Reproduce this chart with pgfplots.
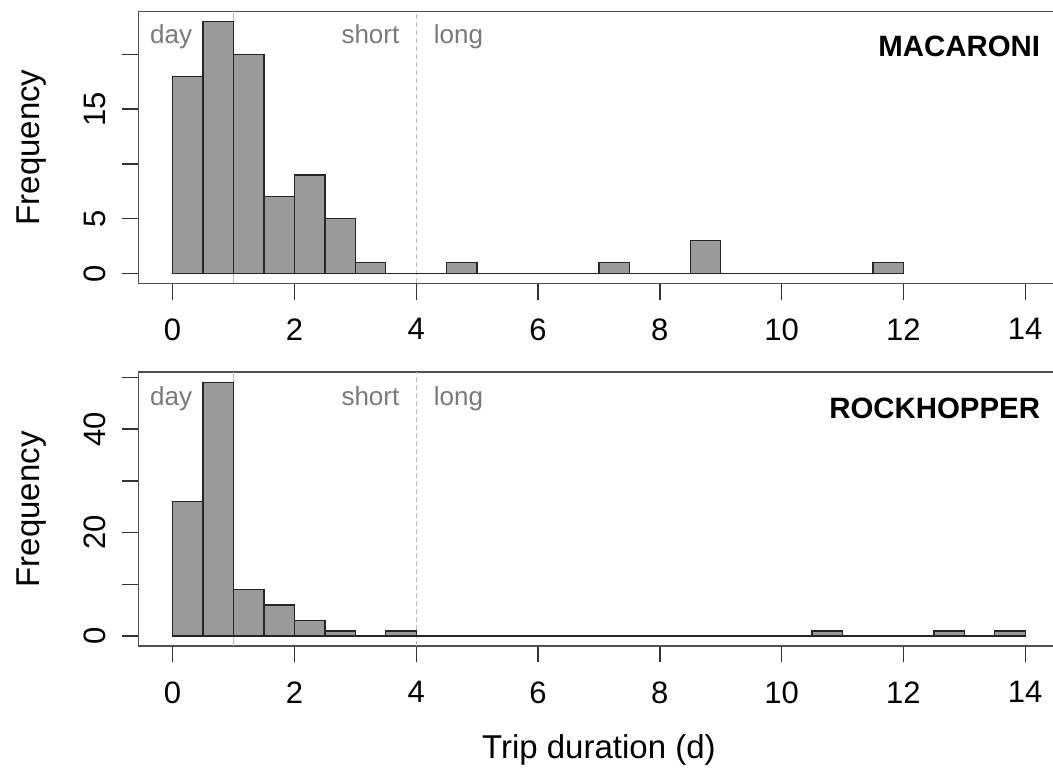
\documentclass[border=0pt]{standalone}
\usepackage{fontspec}
\setmainfont{Liberation Sans}
\usepackage{pgfplots}
\pgfplotsset{compat=1.18}
\definecolor{barfill}{HTML}{9A9A9A}
\definecolor{boxc}{HTML}{505050}
\definecolor{txtgray}{HTML}{7A7A7A}
\definecolor{refline}{HTML}{BDBDBD}
\pgfplotsset{
 histo/.style={
  scale only axis, width=460.4pt,
  xmin=-0.56, xmax=14.56,
  xtick={0,2,...,14},
  tick align=outside, xtick pos=bottom, ytick pos=left,
  major tick length=8pt,
  axis line style={boxc, line width=0.9pt},
  tick style={black!80, line width=0.7pt},
  /pgf/number format/assume math mode=true,
  tick label style={font=\fontsize{15.5}{18}\selectfont},
  xticklabel style={yshift=-6pt},
  yticklabel style={xshift=-5pt, rotate=90, anchor=south},
  label style={font=\fontsize{16.5}{20}\selectfont},
  ylabel={Frequency},
  ylabel style={at={(axis description cs:-0.108,0.5)}, anchor=base},
 },
}
\tikzset{
 lab/.style={inner sep=0pt, text=txtgray, font=\fontsize{13}{15}\selectfont},
 ttl/.style={inner sep=0pt, font=\bfseries\fontsize{14.7}{17}\selectfont},
}
\begin{document}
\begin{tikzpicture}
\useasboundingbox (0,0) rectangle (526.5pt,386pt);
% MACARONI
\begin{axis}[histo, at={(69.25pt,244.25pt)}, anchor=south west, height=136pt,
  ymin=-0.92, ymax=23.92, ytick={0,5,10,15,20}, yticklabels={0,5,,15,}]
\addplot[refline, line width=0.6pt] coordinates {(1,-0.92) (1,23.92)};
\addplot[refline, line width=0.7pt, dash pattern=on 2.5pt off 1.5pt] coordinates {(4,-0.92) (4,23.92)};
\addplot[ybar interval, fill=barfill, draw=black!85, line width=0.7pt] coordinates {
(0,18) (0.5,23) (1,20) (1.5,7) (2,9) (2.5,5) (3,1) (3.5,0) (4,0) (4.5,1)
(5,0) (5.5,0) (6,0) (6.5,0) (7,1) (7.5,0) (8,0) (8.5,3) (9,0) (9.5,0)
(10,0) (10.5,0) (11,0) (11.5,1) (12,0)};
\node[lab, anchor=base west] at (rel axis cs:0.0122,0.882) {day};
\node[lab, anchor=base east] at (rel axis cs:0.2837,0.882) {short};
\node[lab, anchor=base west] at (rel axis cs:0.3203,0.882) {long};
\node[ttl, anchor=base east] at (rel axis cs:0.9795,0.834) {MACARONI};
\end{axis}
% ROCKHOPPER
\begin{axis}[histo, at={(69.25pt,62.85pt)}, anchor=south west, height=137pt,
  ymin=-1.96, ymax=50.96, ytick={0,10,20,30,40,50}, yticklabels={0,,20,,40,},
  xlabel={Trip duration (d)},
  xlabel style={at={(axis description cs:0.5,-0.409)}, anchor=base}]
\addplot[refline, line width=0.6pt] coordinates {(1,-1.96) (1,50.96)};
\addplot[refline, line width=0.7pt, dash pattern=on 2.5pt off 1.5pt] coordinates {(4,-1.96) (4,50.96)};
\addplot[ybar interval, fill=barfill, draw=black!85, line width=0.7pt] coordinates {
(0,26) (0.5,49) (1,9) (1.5,6) (2,3) (2.5,1) (3,0) (3.5,1) (4,0) (4.5,0)
(5,0) (5.5,0) (6,0) (6.5,0) (7,0) (7.5,0) (8,0) (8.5,0) (9,0) (9.5,0)
(10,0) (10.5,1) (11,0) (11.5,0) (12,0) (12.5,1) (13,0) (13.5,1) (14,0)};
\node[lab, anchor=base west] at (rel axis cs:0.0122,0.880) {day};
\node[lab, anchor=base east] at (rel axis cs:0.2837,0.880) {short};
\node[lab, anchor=base west] at (rel axis cs:0.3203,0.880) {long};
\node[ttl, anchor=base east] at (rel axis cs:0.9795,0.830) {ROCKHOPPER};
\end{axis}
\end{tikzpicture}
\end{document}
